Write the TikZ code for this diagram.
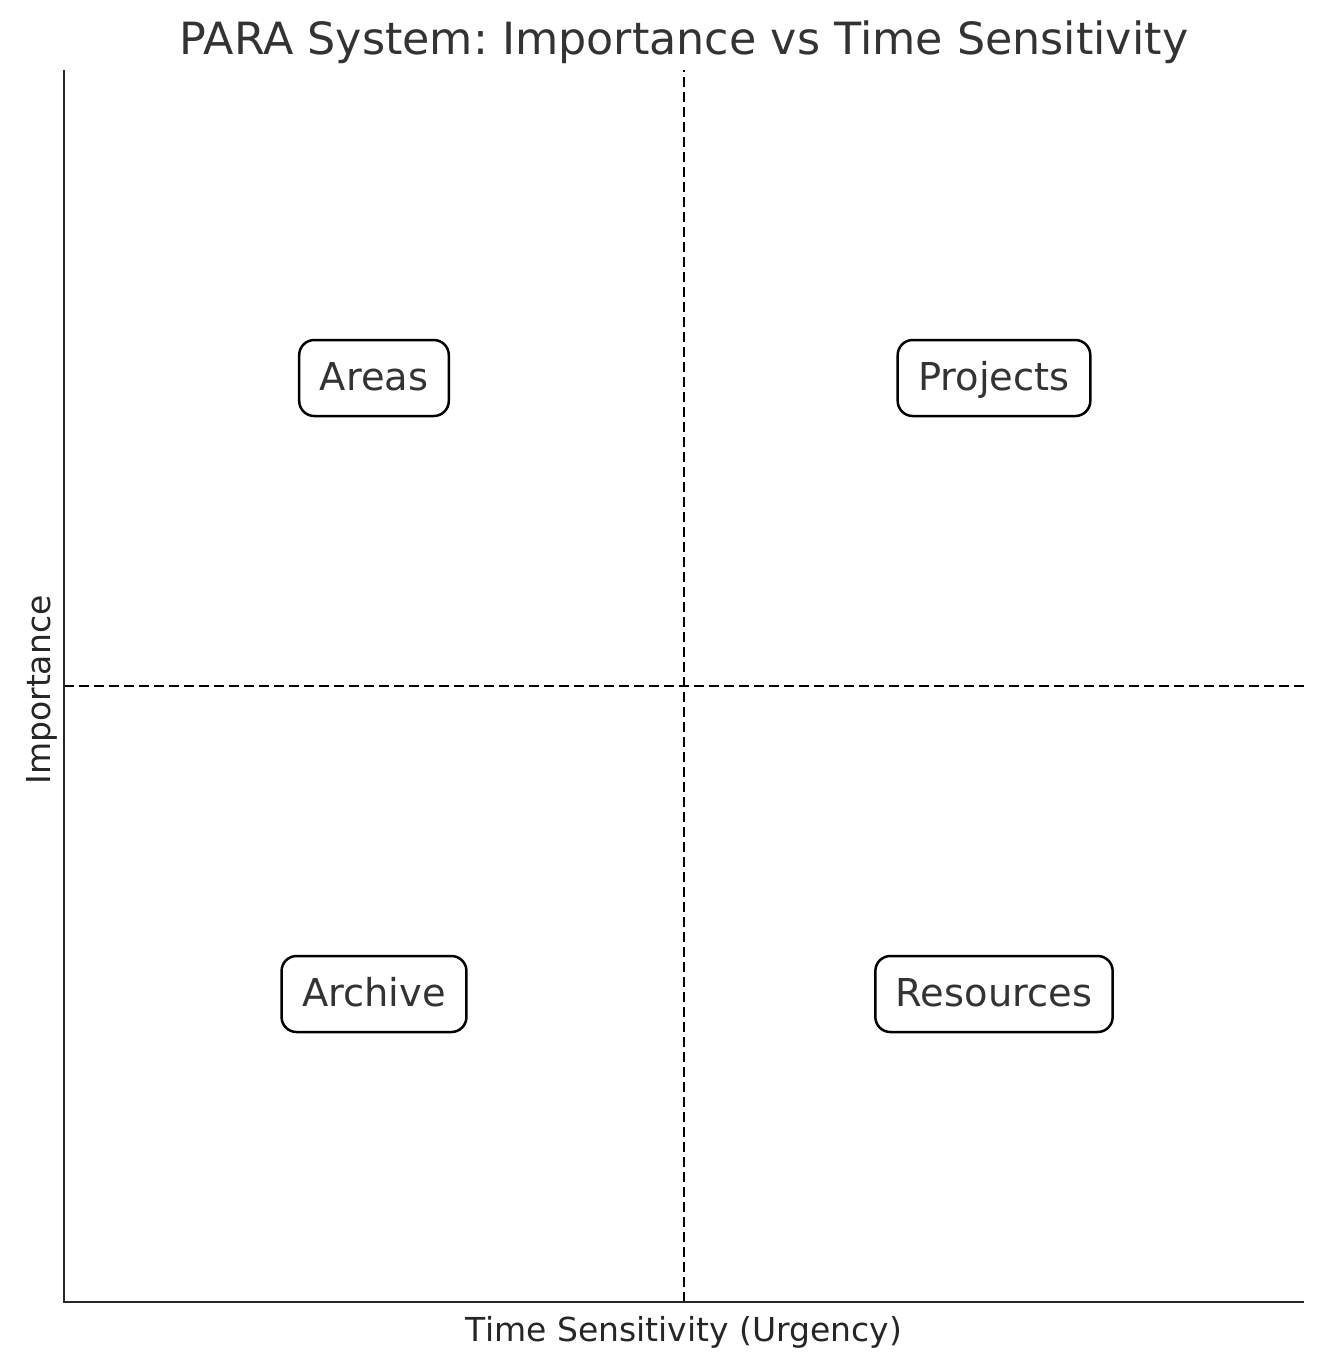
\documentclass[tikz,border=0pt]{standalone}
\usepackage{fontspec}
\setmainfont{DejaVu Sans}
\frenchspacing
\definecolor{txtdark}{HTML}{333333}
\definecolor{axisgray}{HTML}{262626}
\tikzset{
  quad/.style={draw=black, line width=1.25pt, rounded corners=7.5pt, fill=white,
    text=txtdark, font=\fontsize{19.2}{23}\selectfont, inner xsep=10.3pt,
    text height=17pt, text depth=5pt, minimum height=38pt},
  divider/.style={black, line width=1.1pt, dash pattern=on 5.2pt off 2.3pt},
  spine/.style={axisgray, line width=1.25pt},
  axislabel/.style={text=axisgray, font=\fontsize{16.5}{19}\selectfont, inner sep=0pt},
}
\begin{document}
\begin{tikzpicture}[x=0.5pt,y=-0.5pt]
\useasboundingbox (0,0) rectangle (1324,1366);
% axes corners
\coordinate (tl) at (64,70);
\coordinate (bl) at (64,1302);
\coordinate (br) at (1304,1302);
\coordinate (vt) at (684,70);
\coordinate (vb) at (684,1302);
\coordinate (hl) at (64,686);
\coordinate (hr) at (1304,686);
% dividers
\draw[divider] (vb) -- (vt);
\draw[divider] (hl) -- (hr);
% spines
\draw[spine] (tl) -- (bl) -- (br);
% quadrant labels
\node[quad] (areas) at (374,378) {Areas};
\node[quad] (projects) at (994,378) {Projects};
\node[quad] (archive) at (374,994) {Archive};
\node[quad] (resources) at (994,994) {Resources};
% title and axis labels
\node[anchor=base, text=txtdark, font=\fontsize{22.2}{26}\selectfont, inner sep=0pt] (title) at (684,54) {PARA System: Importance vs Time Sensitivity};
\node[axislabel, anchor=base] (xlabel) at (684,1341) {Time Sensitivity (Urgency)};
\node[axislabel, anchor=base, rotate=90] (ylabel) at (50,690) {Importance};
\end{tikzpicture}
\end{document}
